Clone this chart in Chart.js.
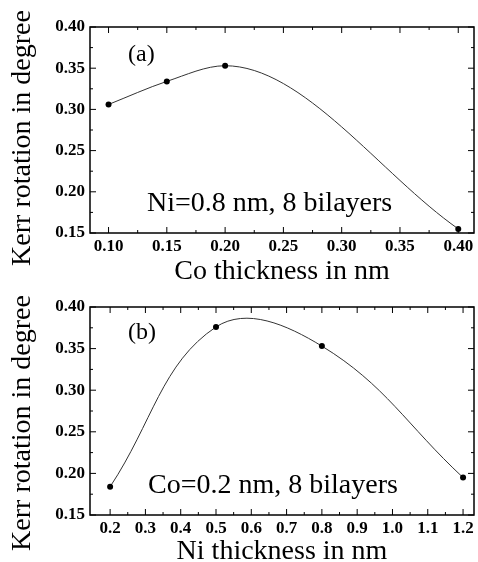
<!DOCTYPE html>
<html>
<head>
<meta charset="utf-8">
<script src="https://cdn.jsdelivr.net/npm/chart.js@4.4.1/dist/chart.umd.min.js"></script>
<style>
    body { margin: 0; background: #fff; width: 478px; height: 562px; overflow: hidden; position: relative; }
    canvas { position: absolute; left: 0; }
    #chart-a { top: 0; }
    #chart-b { top: 290px; }
</style>
</head>
<body>
<canvas id="chart-a" width="478" height="290"></canvas>
<canvas id="chart-b" width="478" height="282"></canvas>
<script>
// Panel (a): Kerr rotation vs Co thickness, Ni = 0.8 nm
const coThickness = [0.10, 0.15, 0.20, 0.40];
const kerrVsCo = [0.306, 0.334, 0.353, 0.155];
const coTicks = [0.10, 0.15, 0.20, 0.25, 0.30, 0.35, 0.40];

// Panel (b): Kerr rotation vs Ni thickness, Co = 0.2 nm
const niThickness = [0.2, 0.5, 0.8, 1.2];
const kerrVsNi = [0.184, 0.376, 0.353, 0.195];
const niTicks = [0.2, 0.3, 0.4, 0.5, 0.6, 0.7, 0.8, 0.9, 1.0, 1.1, 1.2];

const kerrTicks = [0.15, 0.20, 0.25, 0.30, 0.35, 0.40];

const SERIF = "'Liberation Serif', 'Times New Roman', serif";

// Frame, inward ticks on all four sides, panel letter and note
const framePlugin = {
    id: 'frame',
    afterDraw(chart, args, opts) {
        const ctx = chart.ctx;
        const { left, right, top, bottom } = chart.chartArea;
        const xs = chart.scales.x;
        const ys = chart.scales.y;

        ctx.save();
        ctx.strokeStyle = '#000';
        ctx.lineWidth = 1.5;
        ctx.strokeRect(left, top, right - left, bottom - top);

        ctx.lineWidth = 1;
        ctx.beginPath();
        const xVals = xs.ticks.map(t => t.value);
        xVals.forEach((v, i) => {
            const px = xs.getPixelForValue(v);
            ctx.moveTo(px, bottom); ctx.lineTo(px, bottom - 6);
            ctx.moveTo(px, top); ctx.lineTo(px, top + 6);
            if (i < xVals.length - 1) {
                const mx = xs.getPixelForValue((v + xVals[i + 1]) / 2);
                ctx.moveTo(mx, bottom); ctx.lineTo(mx, bottom - 3);
                ctx.moveTo(mx, top); ctx.lineTo(mx, top + 3);
            }
        });
        const yVals = ys.ticks.map(t => t.value);
        yVals.forEach((v, i) => {
            const py = ys.getPixelForValue(v);
            ctx.moveTo(left, py); ctx.lineTo(left + 6, py);
            ctx.moveTo(right, py); ctx.lineTo(right - 6, py);
            if (i < yVals.length - 1) {
                const my = ys.getPixelForValue((v + yVals[i + 1]) / 2);
                ctx.moveTo(left, my); ctx.lineTo(left + 3, my);
                ctx.moveTo(right, my); ctx.lineTo(right - 3, my);
            }
        });
        ctx.stroke();

        // y axis title
        ctx.fillStyle = '#000';
        ctx.font = '28px ' + SERIF;
        ctx.textAlign = 'center';
        ctx.textBaseline = 'alphabetic';
        ctx.save();
        ctx.translate(30, opts.yTitleCenter);
        ctx.rotate(-Math.PI / 2);
        ctx.fillText('Kerr rotation in degree', 0, 0);
        ctx.restore();

        // panel letter and note
        ctx.textAlign = 'left';
        ctx.font = '24px ' + SERIF;
        ctx.fillText(opts.label, left + 38, top + opts.labelDy);
        ctx.font = '28px ' + SERIF;
        ctx.fillText(opts.note, left + opts.noteDx, top + opts.noteDy);
        ctx.restore();
    }
};

function makePanel(canvasId, xs, ys, xTicks, xDigits, xMin, xMax, xTitle, monotone, frameOpts, padTop, titlePad) {
    const ctx = document.getElementById(canvasId);
    return new Chart(ctx, {
        type: 'line',
        data: {
            datasets: [{
                data: xs.map((x, i) => ({ x, y: ys[i] })),
                borderColor: '#333',
                borderWidth: 1,
                pointRadius: 3,
                pointBackgroundColor: '#000',
                pointBorderWidth: 0,
                tension: 0.4,
                cubicInterpolationMode: monotone ? 'monotone' : 'default',
                clip: false
            }]
        },
        options: {
            responsive: false,
            animation: false,
            layout: { padding: { top: padTop, right: 4, left: 0, bottom: 0 } },
            plugins: {
                legend: { display: false },
                tooltip: { enabled: false },
                frame: frameOpts
            },
            scales: {
                x: {
                    type: 'linear',
                    min: xMin,
                    max: xMax,
                    grid: { display: false, drawTicks: false },
                    border: { display: false },
                    afterBuildTicks: scale => { scale.ticks = xTicks.map(v => ({ value: v })); },
                    afterFit: scale => { scale.height = 57; },
                    ticks: {
                        autoSkip: false,
                        maxRotation: 0,
                        padding: 3,
                        color: '#000',
                        font: { family: SERIF, size: 17, weight: 'bold' },
                        callback: v => v.toFixed(xDigits)
                    },
                    title: {
                        display: true,
                        text: xTitle,
                        color: '#000',
                        font: { family: SERIF, size: 28 },
                        padding: { top: 0, bottom: titlePad }
                    }
                },
                y: {
                    min: 0.15,
                    max: 0.40,
                    grid: { display: false, drawTicks: false },
                    border: { display: false },
                    afterBuildTicks: scale => { scale.ticks = kerrTicks.map(v => ({ value: v })); },
                    afterFit: scale => { scale.width = 90; },
                    ticks: {
                        padding: 5,
                        color: '#000',
                        font: { family: SERIF, size: 17, weight: 'bold' },
                        callback: v => v.toFixed(2)
                    }
                }
            }
        },
        plugins: [framePlugin]
    });
}

makePanel('chart-a', coThickness, kerrVsCo, coTicks, 2, 0.0841, 0.4135,
    'Co thickness in nm', true,
    { label: '(a)', labelDy: 34, note: 'Ni=0.8 nm, 8 bilayers', noteDx: 57, noteDy: 184, yTitleCenter: 138 },
    27, 2);

makePanel('chart-b', niThickness, kerrVsNi, niTicks, 1, 0.143, 1.231,
    'Ni thickness in nm', false,
    { label: '(b)', labelDy: 32, note: 'Co=0.2 nm, 8 bilayers', noteDx: 58, noteDy: 186, yTitleCenter: 133 },
    17, 4);
</script>
</body>
</html>
